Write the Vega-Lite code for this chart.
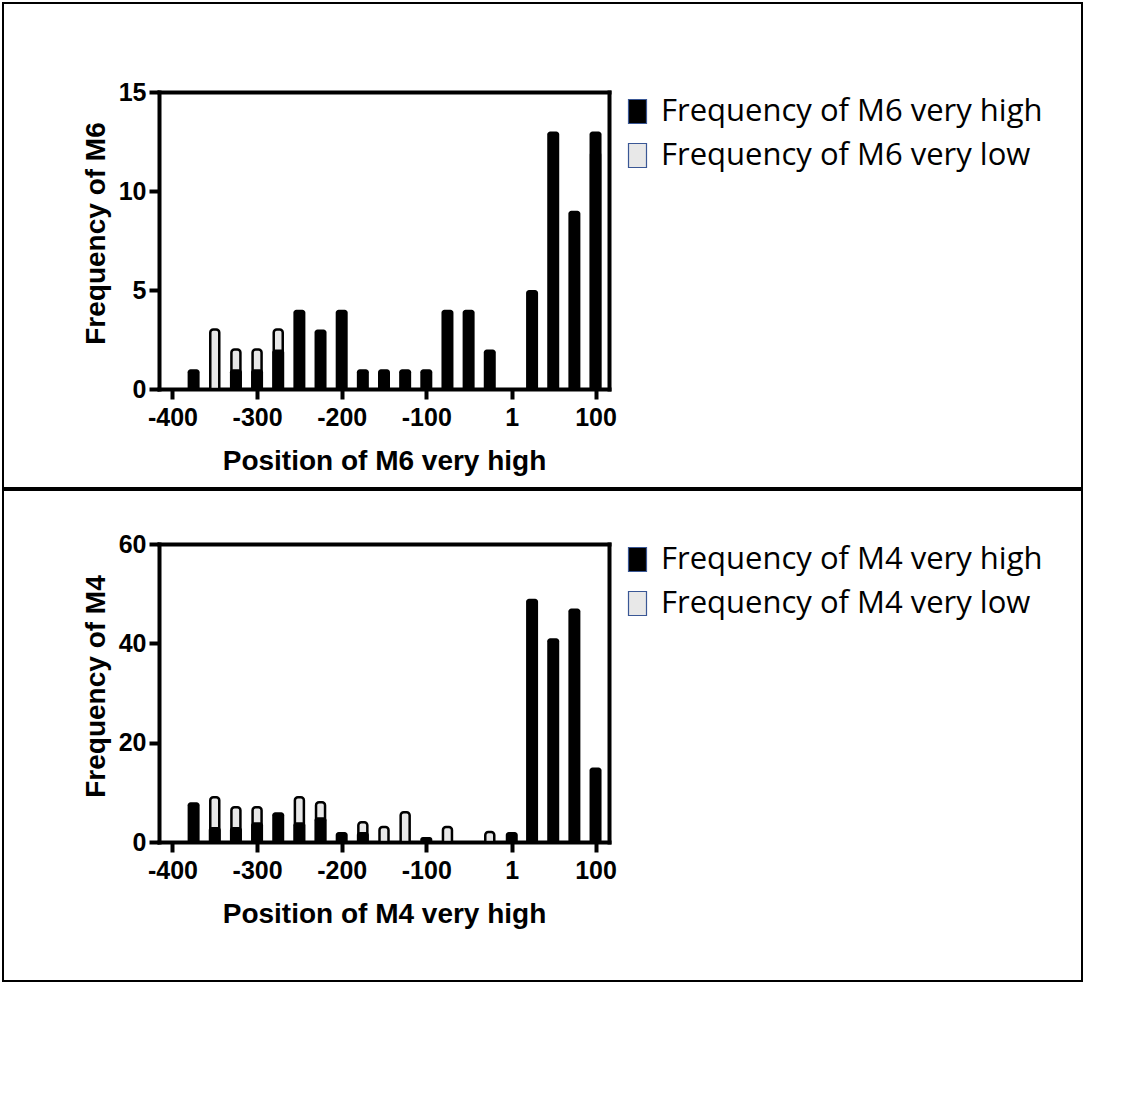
{
  "$schema": "https://vega.github.io/schema/vega-lite/v6.json",
  "background": "white",
  "padding": {"left": 2, "top": 2, "right": 0, "bottom": 0},
  "spacing": 0,
  "config": {
    "view": {"stroke": "black", "strokeWidth": 2},
    "axis": {
      "grid": false,
      "domainColor": "black",
      "domainWidth": 4,
      "domainCap": "square",
      "tickColor": "black",
      "tickWidth": 4,
      "tickSize": 10,
      "labelColor": "black",
      "labelFont": "Liberation Sans",
      "labelFontWeight": "bold",
      "labelFontSize": 25,
      "labelFlush": false,
      "labelOverlap": false,
      "labelBound": false,
      "titleColor": "black",
      "titleFont": "Liberation Sans",
      "titleFontWeight": "bold",
      "titleFontSize": 28
    },
    "legend": {
      "orient": "none",
      "title": null,
      "padding": 0,
      "symbolType": "M-0.75,-1H0.75V1H-0.75Z",
      "symbolSize": 576,
      "symbolStrokeColor": "#3a5795",
      "symbolStrokeWidth": 1.2,
      "labelFont": "Open Sans",
      "labelFontSize": 31,
      "labelColor": "black",
      "labelOffset": 8,
      "labelLimit": 0,
      "rowPadding": 12
    }
  },
  "resolve": {"scale": {"color": "independent"}},
  "vconcat": [
    {
      "width": 1079,
      "height": 485,
      "data": {
        "values": [
          {"pos": -350, "series": "very low", "freq": 3},
          {"pos": -325, "series": "very low", "freq": 2},
          {"pos": -300, "series": "very low", "freq": 2},
          {"pos": -275, "series": "very low", "freq": 3},
          {"pos": 100, "series": "very low", "freq": 12},
          {"pos": -375, "series": "very high", "freq": 1},
          {"pos": -325, "series": "very high", "freq": 1},
          {"pos": -300, "series": "very high", "freq": 1},
          {"pos": -275, "series": "very high", "freq": 2},
          {"pos": -250, "series": "very high", "freq": 4},
          {"pos": -225, "series": "very high", "freq": 3},
          {"pos": -200, "series": "very high", "freq": 4},
          {"pos": -175, "series": "very high", "freq": 1},
          {"pos": -150, "series": "very high", "freq": 1},
          {"pos": -125, "series": "very high", "freq": 1},
          {"pos": -100, "series": "very high", "freq": 1},
          {"pos": -75, "series": "very high", "freq": 4},
          {"pos": -50, "series": "very high", "freq": 4},
          {"pos": -25, "series": "very high", "freq": 2},
          {"pos": 25, "series": "very high", "freq": 5},
          {"pos": 50, "series": "very high", "freq": 13},
          {"pos": 75, "series": "very high", "freq": 9},
          {"pos": 100, "series": "very high", "freq": 13}
        ]
      },
      "layer": [
        {
          "transform": [{"filter": "datum.series === 'very low'"}],
          "mark": {"type": "bar", "width": 9, "stroke": "black", "strokeWidth": 2.5, "cornerRadiusTopLeft": 3, "cornerRadiusTopRight": 3},
          "encoding": {
            "x": {
              "field": "pos", "type": "quantitative",
              "scale": {"domain": [-410, 110], "range": [156, 606], "nice": false, "zero": false},
              "axis": {
                "orient": "bottom", "offset": -99,
                "values": [-400, -300, -200, -100, 1, 100],
                "labelExpr": "'' + datum.value",
                "labelPadding": 6,
                "title": "Position of M6 very high",
                "titlePadding": 17
              }
            },
            "y": {
              "field": "freq", "type": "quantitative", "stack": null,
              "scale": {"domain": [0, 15], "range": [386, 89], "nice": false},
              "axis": {
                "orient": "left", "offset": -156,
                "values": [0, 5, 10, 15],
                "labelPadding": 3,
                "title": "Frequency of M6",
                "titleX": -63, "titleY": 230, "titleBaseline": "middle"
              }
            },
            "color": {
              "field": "series", "type": "nominal",
              "scale": {"domain": ["very high", "very low"], "range": ["black", "#e8e8e8"]},
              "legend": {
                "legendX": 619, "legendY": 93,
                "labelExpr": "'Frequency of M6 ' + datum.label"
              }
            }
          }
        },
        {
          "transform": [{"filter": "datum.series === 'very high'"}],
          "mark": {"type": "bar", "width": 12, "cornerRadiusTopLeft": 3, "cornerRadiusTopRight": 3},
          "encoding": {
            "x": {
              "field": "pos", "type": "quantitative",
              "axis": {"orient": "top", "offset": -89, "labels": false, "ticks": false, "title": null}
            },
            "y": {
              "field": "freq", "type": "quantitative", "stack": null,
              "axis": {"orient": "right", "offset": -473, "labels": false, "ticks": false, "title": null}
            },
            "color": {"field": "series", "type": "nominal"}
          }
        }
      ],
      "resolve": {"axis": {"x": "independent", "y": "independent"}}
    },
    {
      "width": 1079,
      "height": 491,
      "data": {
        "values": [
          {"pos": -350, "series": "very low", "freq": 9},
          {"pos": -325, "series": "very low", "freq": 7},
          {"pos": -300, "series": "very low", "freq": 7},
          {"pos": -250, "series": "very low", "freq": 9},
          {"pos": -225, "series": "very low", "freq": 8},
          {"pos": -175, "series": "very low", "freq": 4},
          {"pos": -150, "series": "very low", "freq": 3},
          {"pos": -125, "series": "very low", "freq": 6},
          {"pos": -75, "series": "very low", "freq": 3},
          {"pos": -25, "series": "very low", "freq": 2},
          {"pos": -375, "series": "very high", "freq": 8},
          {"pos": -350, "series": "very high", "freq": 3},
          {"pos": -325, "series": "very high", "freq": 3},
          {"pos": -300, "series": "very high", "freq": 4},
          {"pos": -275, "series": "very high", "freq": 6},
          {"pos": -250, "series": "very high", "freq": 4},
          {"pos": -225, "series": "very high", "freq": 5},
          {"pos": -200, "series": "very high", "freq": 2},
          {"pos": -175, "series": "very high", "freq": 2},
          {"pos": -100, "series": "very high", "freq": 1},
          {"pos": 1, "series": "very high", "freq": 2},
          {"pos": 25, "series": "very high", "freq": 49},
          {"pos": 50, "series": "very high", "freq": 41},
          {"pos": 75, "series": "very high", "freq": 47},
          {"pos": 100, "series": "very high", "freq": 15}
        ]
      },
      "layer": [
        {
          "transform": [{"filter": "datum.series === 'very low'"}],
          "mark": {"type": "bar", "width": 9, "stroke": "black", "strokeWidth": 2.5, "cornerRadiusTopLeft": 3, "cornerRadiusTopRight": 3},
          "encoding": {
            "x": {
              "field": "pos", "type": "quantitative",
              "scale": {"domain": [-410, 110], "range": [156, 606], "nice": false, "zero": false},
              "axis": {
                "orient": "bottom", "offset": -139,
                "values": [-400, -300, -200, -100, 1, 100],
                "labelExpr": "'' + datum.value",
                "labelPadding": 6,
                "title": "Position of M4 very high",
                "titlePadding": 17
              }
            },
            "y": {
              "field": "freq", "type": "quantitative", "stack": null,
              "scale": {"domain": [0, 60], "range": [352, 54], "nice": false},
              "axis": {
                "orient": "left", "offset": -156,
                "values": [0, 20, 40, 60],
                "labelPadding": 3,
                "title": "Frequency of M4",
                "titleX": -63, "titleY": 196, "titleBaseline": "middle"
              }
            },
            "color": {
              "field": "series", "type": "nominal",
              "scale": {"domain": ["very high", "very low"], "range": ["black", "#e8e8e8"]},
              "legend": {
                "legendX": 619, "legendY": 54,
                "labelExpr": "'Frequency of M4 ' + datum.label"
              }
            }
          }
        },
        {
          "transform": [{"filter": "datum.series === 'very high'"}],
          "mark": {"type": "bar", "width": 12, "cornerRadiusTopLeft": 3, "cornerRadiusTopRight": 3},
          "encoding": {
            "x": {
              "field": "pos", "type": "quantitative",
              "axis": {"orient": "top", "offset": -54, "labels": false, "ticks": false, "title": null}
            },
            "y": {
              "field": "freq", "type": "quantitative", "stack": null,
              "axis": {"orient": "right", "offset": -473, "labels": false, "ticks": false, "title": null}
            },
            "color": {"field": "series", "type": "nominal"}
          }
        }
      ],
      "resolve": {"axis": {"x": "independent", "y": "independent"}}
    }
  ]
}
